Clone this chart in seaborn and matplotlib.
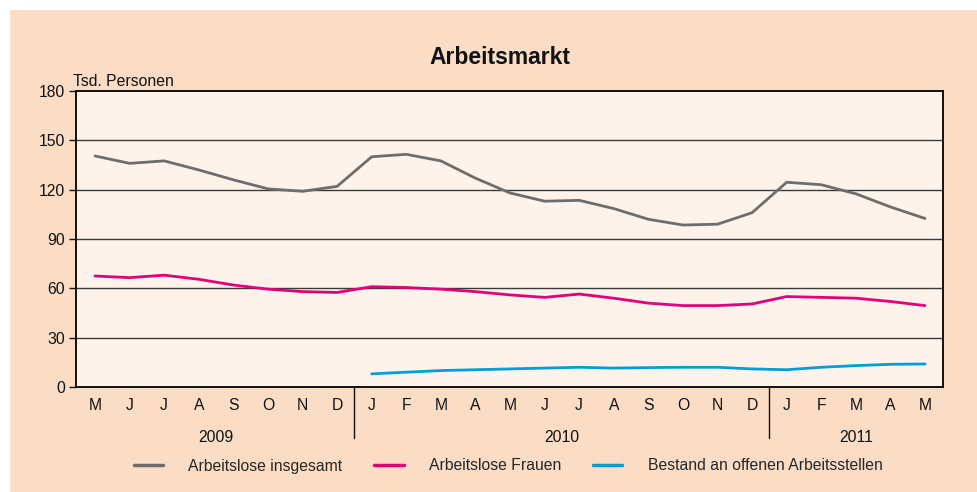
import numpy as np
import pandas as pd
import matplotlib
matplotlib.use("Agg")
import matplotlib.pyplot as plt
import seaborn as sns
from matplotlib.patches import Rectangle
from matplotlib.lines import Line2D

months = ["M", "J", "J", "A", "S", "O", "N", "D",
          "J", "F", "M", "A", "M", "J", "J", "A", "S", "O", "N", "D",
          "J", "F", "M", "A", "M"]
years = ["2009", "2010", "2011"]
year_centers = [3.5, 13.5, 22.0]

insgesamt = [140.5, 136, 137.5, 132, 126, 120.5, 119, 122,
             140, 141.5, 137.5, 127, 118, 113, 113.5, 108.5, 102, 98.5, 99, 106,
             124.5, 123, 117.5, 109.5, 102.5]
frauen = [67.5, 66.5, 68, 65.5, 62, 59.5, 58, 57.5,
          61, 60.5, 59.5, 58, 56, 54.5, 56.5, 54, 51, 49.5, 49.5, 50.5,
          55, 54.5, 54, 52, 49.5]
stellen = [None] * 8 + [8, 9, 10, 10.5, 11, 11.5, 12, 11.5, 11.8, 12, 12, 11,
                        10.5, 12, 13, 13.8, 14]

series_names = ["Arbeitslose insgesamt", "Arbeitslose Frauen",
                "Bestand an offenen Arbeitsstellen"]
colors = ["#6f6d6c", "#e2007a", "#009ed8"]

rows = []
for name, vals in zip(series_names, [insgesamt, frauen, stellen]):
    for i, v in enumerate(vals):
        if v is not None:
            rows.append({"x": i, "value": v, "series": name})
df = pd.DataFrame(rows)

sns.set_theme(style="white")
plt.rcParams["font.family"] = ["Liberation Sans", "DejaVu Sans"]
FS = 11.3

fig = plt.figure(figsize=(9.78, 4.92), dpi=100)
fig.patch.set_facecolor("white")
bg = Rectangle((10 / 978, 0), 1 - 10 / 978, 1 - 10 / 492,
               transform=fig.transFigure, facecolor="#fbdcc4",
               edgecolor="none", zorder=-10)
fig.patches.append(bg)

ax = fig.add_axes([76 / 978, 1 - 387 / 492, (943 - 76) / 978, (387 - 91) / 492])
ax.set_zorder(1)
ax.set_facecolor("#fdf3ea")

sns.lineplot(data=df, x="x", y="value", hue="series", hue_order=series_names,
             palette=colors, linewidth=2.0, ax=ax, legend=False, zorder=3)

ax.set_xlim(-0.55, 24.52)
ax.set_ylim(0, 180)
ax.set_yticks(np.arange(0, 181, 30))
ax.set_yticklabels([str(v) for v in range(0, 181, 30)], fontsize=FS, color="#111")
for v in range(30, 180, 30):
    ax.axhline(v, color="#3a3a3a", linewidth=1.0, zorder=1)
ax.set_xticks(range(len(months)))
ax.set_xticklabels(months, fontsize=FS, color="#111")
ax.tick_params(axis="x", length=0, pad=8)
ax.tick_params(axis="y", length=5, width=1, color="#111", direction="out", left=True, pad=3)
ax.set_xlabel("")
ax.set_ylabel("")
for s in ax.spines.values():
    s.set_color("#111")
    s.set_linewidth(1.4)
    s.set_visible(True)

# year separators
for xs in [7.5, 19.5]:
    ax.add_line(Line2D([xs, xs], [0, -31], color="#111", linewidth=1.0,
                       clip_on=False, transform=ax.transData))
for yc, yl in zip(year_centers, years):
    ax.text(yc, -30.5, yl, ha="center", va="center", fontsize=FS, color="#111",
            clip_on=False)

ax.text(-0.004, 1.007, "Tsd. Personen", ha="left", va="bottom", fontsize=FS,
        color="#111", transform=ax.transAxes, clip_on=False)
fig.text(500 / 978, 1 - 57 / 492, "Arbeitsmarkt", ha="center", va="center",
         fontsize=16.5, fontweight="bold", color="#111")

handles = [Line2D([], [], color=c, linewidth=2.5) for c in colors]
fig.legend(handles, series_names, loc="center", ncol=3,
           bbox_to_anchor=(508 / 978, 1 - 466 / 492), frameon=False,
           fontsize=FS, handlelength=1.9, handletextpad=1.6, columnspacing=2.0)

fig.savefig("out.png", dpi=100, facecolor=fig.get_facecolor())
